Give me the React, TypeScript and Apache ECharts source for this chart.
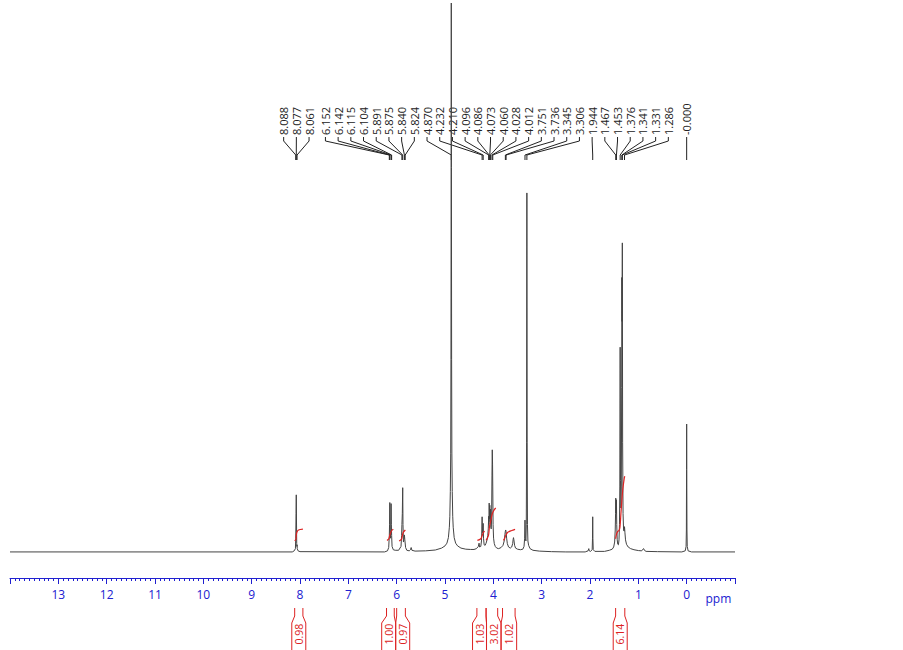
import React, { useEffect, useRef } from "react";
import * as echarts from "echarts";

// ---------- data ----------
// spectrum trace: [ppm, intensity]
const spectrum: [number, number][] = [
  [14, 0], [8.16, 0], [8.12, 0.2], [8.095, 0.6], [8.088, 2.5], [8.082, 7], [8.077, 10.4], [8.073, 6], [8.068, 1.5], [8.064, 1.0], [8.061, 1.3], [8.057, 0.6], [8.04, 0.2], [8.0, 0.05],
  [6.25, 0], [6.19, 0.2], [6.165, 0.8], [6.152, 3], [6.147, 5], [6.142, 9.0], [6.136, 4], [6.128, 2.5], [6.121, 4], [6.115, 8.8], [6.11, 5], [6.104, 3], [6.095, 1], [6.07, 0.4], [6.03, 0.3],
  [5.96, 0.3], [5.91, 1.0], [5.898, 3], [5.891, 5], [5.883, 7], [5.875, 11.7], [5.869, 5], [5.86, 1.8], [5.85, 2.2], [5.845, 2.8], [5.84, 3.1], [5.832, 2.3], [5.824, 2.2], [5.815, 0.8], [5.79, 0.3], [5.74, 0.2], [5.715, 0.4], [5.7, 0.8], [5.685, 0.3], [5.62, 0.15],
  [5.4, 0.2], [5.2, 0.35], [5.07, 0.7], [5.0, 1.1], [4.96, 1.6], [4.93, 2.6], [4.91, 4.5], [4.9, 6.5], [4.89, 11], [4.882, 18], [4.877, 35], [4.873, 70], [4.87, 100], [4.867, 70], [4.863, 35], [4.858, 18], [4.85, 11], [4.84, 6.5], [4.83, 4.5], [4.81, 2.6], [4.78, 1.6], [4.74, 1.1], [4.67, 0.7], [4.57, 0.5], [4.47, 0.45],
  [4.4, 0.45], [4.35, 0.6], [4.31, 1.0], [4.295, 1.6], [4.285, 0.9], [4.26, 1.0], [4.245, 2], [4.238, 4], [4.232, 6.4], [4.226, 3.5], [4.218, 3.8], [4.21, 5.2], [4.203, 2.5], [4.19, 1.3], [4.17, 1.2],
  [4.15, 1.6], [4.13, 2.2], [4.115, 3], [4.105, 4.2], [4.096, 6.5], [4.091, 5], [4.086, 8.9], [4.08, 6], [4.073, 8.5], [4.067, 5.5], [4.06, 7.8], [4.052, 4.5], [4.044, 4.2], [4.036, 6], [4.028, 14], [4.022, 18.6], [4.016, 16], [4.012, 12], [4.005, 5], [3.995, 2.5], [3.98, 1.5], [3.96, 1.0], [3.93, 0.7], [3.89, 0.6],
  [3.84, 0.8], [3.8, 1.2], [3.775, 2], [3.76, 3.2], [3.751, 3.8], [3.744, 4.0], [3.736, 3.7], [3.725, 2.5], [3.71, 1.5], [3.685, 0.9], [3.65, 0.7], [3.62, 0.9], [3.6, 1.5], [3.59, 2.3], [3.583, 2.6], [3.575, 2.2], [3.56, 1.2], [3.54, 0.7], [3.5, 0.5], [3.44, 0.4],
  [3.39, 0.5], [3.365, 1], [3.352, 2.5], [3.345, 5.8], [3.338, 2.5], [3.326, 2], [3.318, 5], [3.312, 20], [3.306, 65.4], [3.3, 20], [3.294, 5], [3.285, 2], [3.27, 1.2], [3.24, 0.6], [3.18, 0.3], [3.05, 0.15], [2.8, 0.05], [2.5, 0],
  [2.1, 0], [2.04, 0.2], [2.025, 0.6], [2.015, 0.2], [1.99, 0.1], [1.955, 0.4], [1.948, 2.5], [1.944, 6.4], [1.94, 2.5], [1.933, 0.4], [1.9, 0.1], [1.7, 0.1],
  [1.6, 0.3], [1.54, 0.5], [1.51, 0.9], [1.49, 1.8], [1.478, 4], [1.471, 7], [1.467, 9.8], [1.461, 7], [1.453, 9.5], [1.447, 5], [1.437, 2.2], [1.425, 1.4], [1.412, 1.3], [1.4, 2.2], [1.39, 5], [1.383, 12], [1.376, 37.3], [1.369, 13], [1.36, 8], [1.352, 12], [1.345, 30], [1.341, 50], [1.336, 42], [1.331, 56.3], [1.325, 20], [1.316, 7], [1.305, 4], [1.295, 3.8], [1.286, 4.6], [1.278, 3.6], [1.265, 2.2], [1.245, 1.4], [1.21, 0.9], [1.16, 0.6], [1.09, 0.4], [1.0, 0.25], [0.93, 0.2], [0.905, 0.5], [0.89, 0.6], [0.875, 0.3], [0.84, 0.1], [0.6, 0.05],
  [0.1, 0], [0.03, 0.2], [0.012, 1], [0.006, 4], [0.002, 15], [0.0, 23.3], [-0.002, 15], [-0.006, 4], [-0.012, 1], [-0.03, 0.2], [-0.1, 0], [-1, 0],
];

// integral curves (red), [ppm, level]
const integral1: [number, number][] = [[8.11, 2.0], [8.085, 2.3], [8.075, 3.2], [8.06, 3.7], [8.03, 4.0], [7.94, 4.15]];
const integral2: [number, number][] = [[6.2, 2.1], [6.16, 2.4], [6.14, 3.1], [6.11, 3.8], [6.07, 4.15]];
const integral3: [number, number][] = [[5.95, 2.0], [5.9, 2.3], [5.88, 3.1], [5.86, 3.6], [5.82, 4.0]];
const integral4: [number, number][] = [[4.33, 2.1], [4.26, 2.4], [4.23, 3.0], [4.21, 3.5], [4.18, 3.75]];
const integral5: [number, number][] = [[4.15, 2.1], [4.1, 3.0], [4.08, 4.6], [4.05, 5.8], [4.02, 7.0], [3.98, 7.7], [3.95, 8.0]];
const integral6: [number, number][] = [[3.79, 2.1], [3.76, 2.6], [3.74, 3.1], [3.7, 3.6], [3.62, 3.9], [3.55, 4.1]];
const integral7: [number, number][] = [[1.47, 2.4], [1.455, 3.1], [1.43, 3.7], [1.4, 3.9], [1.38, 4.5], [1.36, 7], [1.34, 9.5], [1.32, 11.5], [1.29, 13.5], [1.28, 13.8]];

// peak labels
const peakLabels = [
  "8.088", "8.077", "8.061",
  "6.152", "6.142", "6.115", "6.104", "5.891", "5.875", "5.840", "5.824", "4.870", "4.232", "4.210",
  "4.096", "4.086", "4.073", "4.060", "4.028", "4.012", "3.751", "3.736", "3.345", "3.306", "1.944",
  "1.467", "1.453", "1.376", "1.341", "1.331", "1.286", "-0.000",
];

// integral regions
const integralFrom = [8.11, 6.21, 6.0, 4.34, 4.15, 3.81, 1.47];
const integralTo = [7.94, 6.05, 5.82, 4.15, 3.91, 3.55, 1.28];
const integralValues = ["0.98", "1.00", "0.97", "1.03", "3.02", "1.02", "6.14"];

const BLUE = "#2020d0";
const RED = "#dd2222";
const FONT = "Open Sans";

export default function App() {
  const ref = useRef<HTMLDivElement>(null);
  useEffect(() => {
    const chart = echarts.init(ref.current!, null, { renderer: "svg" });
    const integrals = [integral1, integral2, integral3, integral4, integral5, integral6, integral7];
    chart.setOption({
      animation: false,
      backgroundColor: "#ffffff",
      grid: { left: 10, right: 168, top: 3, bottom: 72, containLabel: false },
      xAxis: {
        type: "value",
        min: -1,
        max: 14,
        interval: 1,
        inverse: true,
        axisLine: { show: true, onZero: false, lineStyle: { color: BLUE, width: 1 } },
        axisTick: { show: true, length: 6, lineStyle: { color: BLUE, width: 1 } },
        minorTick: { show: true, splitNumber: 10, length: 3, lineStyle: { color: BLUE, width: 1 } },
        axisLabel: {
          color: BLUE,
          fontSize: 12,
          fontFamily: FONT,
          margin: 10,
          formatter: (v: number) => (v === 14 || v === -1 ? "" : String(v)),
        },
        splitLine: { show: false },
        minorSplitLine: { show: false },
      },
      yAxis: { type: "value", min: -4.75, max: 100, show: false, splitLine: { show: false } },
      series: [
        {
          type: "line",
          data: spectrum,
          showSymbol: false,
          symbol: "none",
          lineStyle: { color: "#444", width: 1 },
          silent: true,
          clip: false,
          z: 2,
        },
        ...integrals.map((d) => ({
          type: "line",
          data: d,
          showSymbol: false,
          symbol: "none",
          smooth: 0.3,
          lineStyle: { color: RED, width: 1.2 },
          silent: true,
          z: 3,
        })),
      ],
    });

    const px = (v: number) => chart.convertToPixel({ xAxisIndex: 0 }, v) as number;
    const graphics: any[] = [];

    // peak label layout
    const S = 12.7;
    const ideal = peakLabels.map((s) => px(parseFloat(s)));
    type Cl = { i0: number; n: number; sum: number };
    const cls: Cl[] = [];
    ideal.forEach((x, i) => {
      cls.push({ i0: i, n: 1, sum: x });
      while (cls.length > 1) {
        const a = cls[cls.length - 2];
        const b = cls[cls.length - 1];
        const aEnd = a.sum / a.n + ((a.n - 1) / 2) * S;
        const bStart = b.sum / b.n - ((b.n - 1) / 2) * S;
        if (bStart - aEnd < S) {
          cls.splice(cls.length - 2, 2, { i0: a.i0, n: a.n + b.n, sum: a.sum + b.sum });
        } else break;
      }
    });
    const lpos: number[] = new Array(peakLabels.length);
    cls.forEach((c) => {
      const center = c.sum / c.n;
      for (let k = 0; k < c.n; k++) lpos[c.i0 + k] = center - ((c.n - 1) / 2) * S + k * S;
    });
    peakLabels.forEach((s, i) => {
      const lx = lpos[i];
      const p = ideal[i];
      graphics.push({
        type: "text",
        x: lx,
        y: 135,
        rotation: Math.PI / 2,
        silent: true,
        style: { text: s, fill: "#222", fontSize: 11, fontFamily: FONT, align: "left", verticalAlign: "middle" },
      });
      graphics.push({
        type: "polyline",
        silent: true,
        shape: { points: [[lx, 137], [lx, 141], [p, 155], [p, 160]] },
        style: { stroke: "#222", lineWidth: 1, fill: null },
      });
    });

    // integral labels
    const boxes = integralFrom.map((f, i) => {
      const a = px(f);
      const b = px(integralTo[i]);
      const c = (a + b) / 2;
      const w = Math.max(b - a + 3, 14);
      return { a, b, l: c - w / 2, r: c + w / 2 };
    });
    for (let i = 1; i < boxes.length; i++) {
      const ov = boxes[i - 1].r - boxes[i].l;
      if (ov > 0) {
        boxes[i - 1].l -= ov / 2;
        boxes[i - 1].r -= ov / 2;
        boxes[i].l += ov / 2;
        boxes[i].r += ov / 2;
      }
    }
    boxes.forEach((bx, i) => {
      graphics.push({
        type: "polyline",
        silent: true,
        shape: { points: [[bx.a, 608], [bx.a, 616], [bx.l, 623], [bx.l, 655]] },
        style: { stroke: RED, lineWidth: 1, fill: null },
      });
      graphics.push({
        type: "polyline",
        silent: true,
        shape: { points: [[bx.b, 608], [bx.b, 616], [bx.r, 623], [bx.r, 655]] },
        style: { stroke: RED, lineWidth: 1, fill: null },
      });
      graphics.push({
        type: "text",
        x: (bx.l + bx.r) / 2,
        y: 634,
        rotation: Math.PI / 2,
        silent: true,
        style: { text: integralValues[i], fill: RED, fontSize: 10.5, fontFamily: FONT, align: "center", verticalAlign: "middle" },
      });
    });

    // unit label
    graphics.push({
      type: "text",
      x: px(-0.39),
      y: 598,
      silent: true,
      style: { text: "ppm", fill: BLUE, fontSize: 12, fontFamily: FONT, align: "left", verticalAlign: "middle" },
    });

    chart.setOption({ graphic: graphics });
    return () => chart.dispose();
  }, []);
  return <div ref={ref} style={{ position: "fixed", left: 0, top: 0, width: 903, height: 650 }} />;
}
